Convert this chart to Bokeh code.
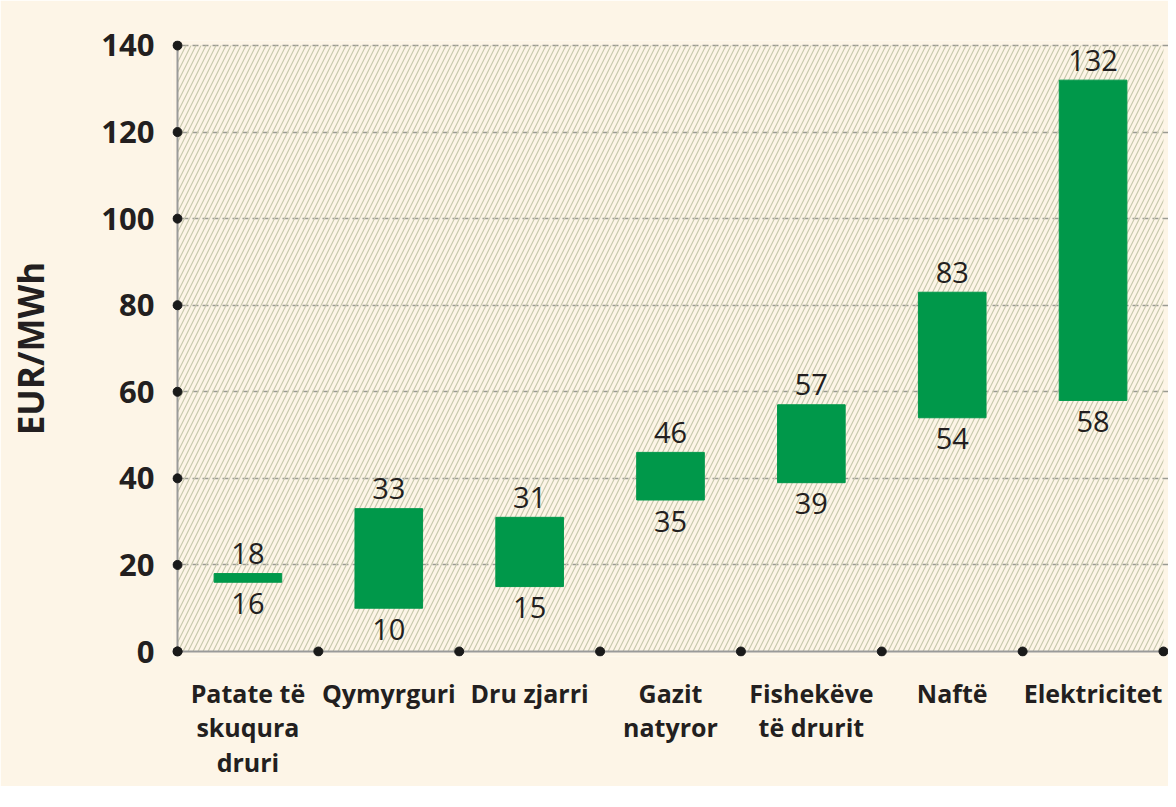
from bokeh.plotting import figure
from bokeh.models import Range1d, FixedTicker, BoxAnnotation, ColumnDataSource
from bokeh.embed import file_html
from bokeh.resources import INLINE
from bokeh.core.properties import value

categories = ["Patate të\nskuqura\ndruri", "Qymyrguri", "Dru zjarri", "Gazit\nnatyror",
              "Fishekëve\ntë drurit", "Naftë", "Elektricitet"]
low = [16, 10, 15, 35, 39, 54, 58]
high = [18, 33, 31, 46, 57, 83, 132]
y_ticks = [0, 20, 40, 60, 80, 100, 120, 140]

BG = "#fdf5e7"
GREEN = "#00984a"
TXT = "#231f20"
FONT = "Open Sans"

n = len(categories)
centers = [i + 0.5 for i in range(n)]

p = figure(frame_width=996, frame_height=616, output_backend="svg", toolbar_location=None,
           x_range=Range1d(-0.0355, n + 0.0355), y_range=Range1d(-1.155, 141.155),
           min_border_left=172, min_border_right=0, min_border_top=40, min_border_bottom=130)
p.background_fill_color = BG
p.border_fill_color = BG
p.outline_line_color = None

# hatched plot area
p.add_layout(BoxAnnotation(left=0, right=n, bottom=0, top=y_ticks[-1],
                           fill_alpha=0, line_alpha=0, hatch_pattern="/",
                           hatch_color="#c8c9ad", hatch_scale=10, hatch_weight=1.2,
                           level="underlay"))

p.xgrid.visible = False
p.ygrid.ticker = FixedTicker(ticks=y_ticks[1:])
p.ygrid.grid_line_color = "#9a9a92"
p.ygrid.grid_line_width = 1.5
p.ygrid.grid_line_dash = "6 4"

# axes
p.yaxis.ticker = FixedTicker(ticks=y_ticks)
p.xaxis.ticker = FixedTicker(ticks=centers)
p.xaxis.major_label_overrides = {c: lab for c, lab in zip(centers, categories)}
for ax in (p.xaxis[0], p.yaxis[0]):
    ax.axis_line_color = None
    ax.major_tick_line_color = None
    ax.minor_tick_line_color = None
    ax.major_label_text_font = FONT
    ax.major_label_text_font_style = "bold"
    ax.major_label_text_color = TXT
p.yaxis.major_label_text_font_size = "31px"
p.yaxis.major_label_standoff = 12
p.xaxis.major_label_text_font_size = "25px"
p.xaxis.major_label_standoff = 13
p.xaxis.major_label_text_line_height = 1.025
p.yaxis.axis_label = "EUR/MWh"
p.yaxis.axis_label_text_font = FONT
p.yaxis.axis_label_text_font_style = "bold"
p.yaxis.axis_label_text_font_size = "35px"
p.yaxis.axis_label_text_color = TXT
p.yaxis.axis_label_standoff = 44

# custom axis lines
p.segment(x0=[0, 0], y0=[0, 0], x1=[0, n], y1=[y_ticks[-1], 0],
          line_color="#9a9a9a", line_width=2)

src = ColumnDataSource(dict(x=centers, low=low, high=high,
                            lt=[str(v) for v in low], ht=[str(v) for v in high]))
p.vbar(x="x", bottom="low", top="high", width=0.48, source=src,
       fill_color=GREEN, line_color=GREEN)

p.text(x="x", y="high", text="ht", source=src, text_align="center", text_baseline="alphabetic",
       y_offset=-20, text_font=value(FONT), text_font_size="29px", text_color=TXT)
p.text(x="x", y="low", text="lt", source=src, text_align="center", text_baseline="alphabetic",
       y_offset=21, text_font=value(FONT), text_font_size="29px", text_color=TXT)

# tick dots
p.scatter(x=[0] * len(y_ticks), y=y_ticks, size=9, color="#1a1a1a")
p.scatter(x=list(range(n + 1)), y=[0] * (n + 1), size=9, color="#1a1a1a")

open("out.html", "w").write(file_html(p, INLINE))
